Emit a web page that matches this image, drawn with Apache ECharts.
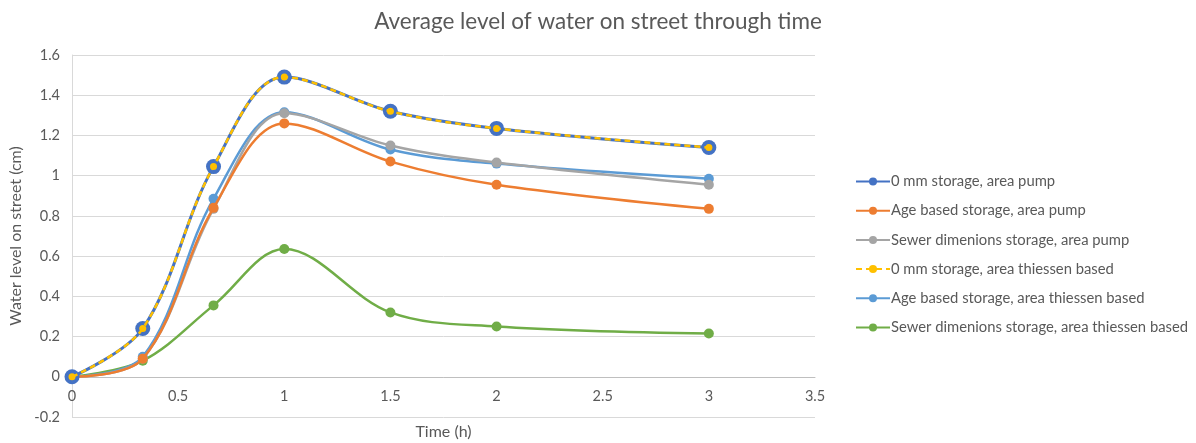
<!DOCTYPE html>
<html><head><meta charset="utf-8">
<script src="https://cdn.jsdelivr.net/npm/echarts@6/dist/echarts.min.js"></script>
<style>html,body{margin:0;padding:0;background:#fff}#c{width:1196px;height:443px}</style>
</head><body><div id="c"></div>
<script>
const times = [0, 1/3, 2/3, 1, 1.5, 2, 3];
const seriesNames = [
  "0 mm storage, area pump",
  "Age based storage, area pump",
  "Sewer dimenions storage, area pump",
  "0 mm storage, area thiessen based",
  "Age based storage, area thiessen based",
  "Sewer dimenions storage, area thiessen based"
];
const zeroPump      = [0, 0.24, 1.045, 1.49, 1.32, 1.235, 1.14];
const agePump       = [0, 0.09, 0.84, 1.26, 1.07, 0.955, 0.835];
const sewerPump     = [0, 0.09, 0.835, 1.31, 1.15, 1.065, 0.955];
const zeroThiessen  = [0, 0.24, 1.045, 1.49, 1.32, 1.235, 1.14];
const ageThiessen   = [0, 0.10, 0.885, 1.315, 1.13, 1.06, 0.985];
const sewerThiessen = [0, 0.08, 0.355, 0.635, 0.32, 0.25, 0.215];

const values = [zeroPump, agePump, sewerPump, zeroThiessen, ageThiessen, sewerThiessen];
const colors = ["#4472C4", "#ED7D31", "#A5A5A5", "#FFC000", "#5B9BD5", "#70AD47"];
const sizes = [15, 10, 10, 7, 10, 10];
const widths = [3, 2.5, 2.5, 2.5, 2.5, 2.5];
const FONT = "Lato, 'Open Sans', sans-serif";
const TXT = "#595959";

const GRID_TOP = 55, GRID_BOTTOM = 26, H = 443;
const Y_MIN = -0.2, Y_MAX = 1.6;
// distance (px) from the plot bottom (y = -0.2) up to the y = 0 line, where Excel draws the category axis
const zeroOffset = (H - GRID_TOP - GRID_BOTTOM) * (0 - Y_MIN) / (Y_MAX - Y_MIN);

const chart = echarts.init(document.getElementById('c'));
chart.setOption({
  animation: false,
  textStyle: {fontFamily: FONT},
  title: {
    text: "Average level of water on street through time",
    left: 'center', top: 5,
    textStyle: {fontFamily: FONT, fontSize: 22.5, fontWeight: 'normal', color: TXT}
  },
  grid: {left: 72, right: 381, top: GRID_TOP, bottom: GRID_BOTTOM, containLabel: false, outerBoundsMode: 'none'},
  legend: {
    orient: 'vertical', left: 850, top: 169, itemGap: 14.2,
    itemWidth: 34, itemHeight: 10,
    textStyle: {fontFamily: FONT, fontSize: 14.8, color: TXT, padding: [0,0,0,-4]},
    data: seriesNames
  },
  xAxis: {
    type: 'value', min: 0, max: 3.5, interval: 0.5,
    offset: -zeroOffset,
    name: 'Time (h)', nameLocation: 'middle', nameGap: 47,
    nameTextStyle: {fontFamily: FONT, fontSize: 16, color: TXT},
    axisLine: {onZero: false, lineStyle: {color: '#BFBFBF', width: 1}},
    axisTick: {show: false},
    axisLabel: {color: TXT, fontSize: 14.5, fontFamily: FONT, margin: 12},
    splitLine: {show: false}
  },
  yAxis: {
    type: 'value', min: Y_MIN, max: Y_MAX, interval: 0.2,
    name: 'Water level on street (cm)', nameLocation: 'middle', nameGap: 45, nameRotate: 90,
    nameTextStyle: {fontFamily: FONT, fontSize: 16, color: TXT},
    axisLine: {show: true, onZero: false, lineStyle: {color: '#D9D9D9'}},
    axisTick: {show: false},
    axisLabel: {color: TXT, fontSize: 14.5, fontFamily: FONT, margin: 12,
      formatter: v => String(Math.round(v*10)/10)},
    splitLine: {lineStyle: {color: '#D9D9D9', width: 1}}
  },
  series: values.map((vals, i) => ({
    name: seriesNames[i],
    type: 'line',
    smooth: 0.35,
    data: times.map((t, k) => [t, vals[k]]),
    symbol: 'circle',
    symbolSize: sizes[i],
    itemStyle: {color: colors[i]},
    lineStyle: {color: colors[i], width: widths[i], type: i === 3 ? [6, 4] : 'solid'},
    z: i === 3 ? 10 : 5 - i
  }))
});
</script></body></html>
